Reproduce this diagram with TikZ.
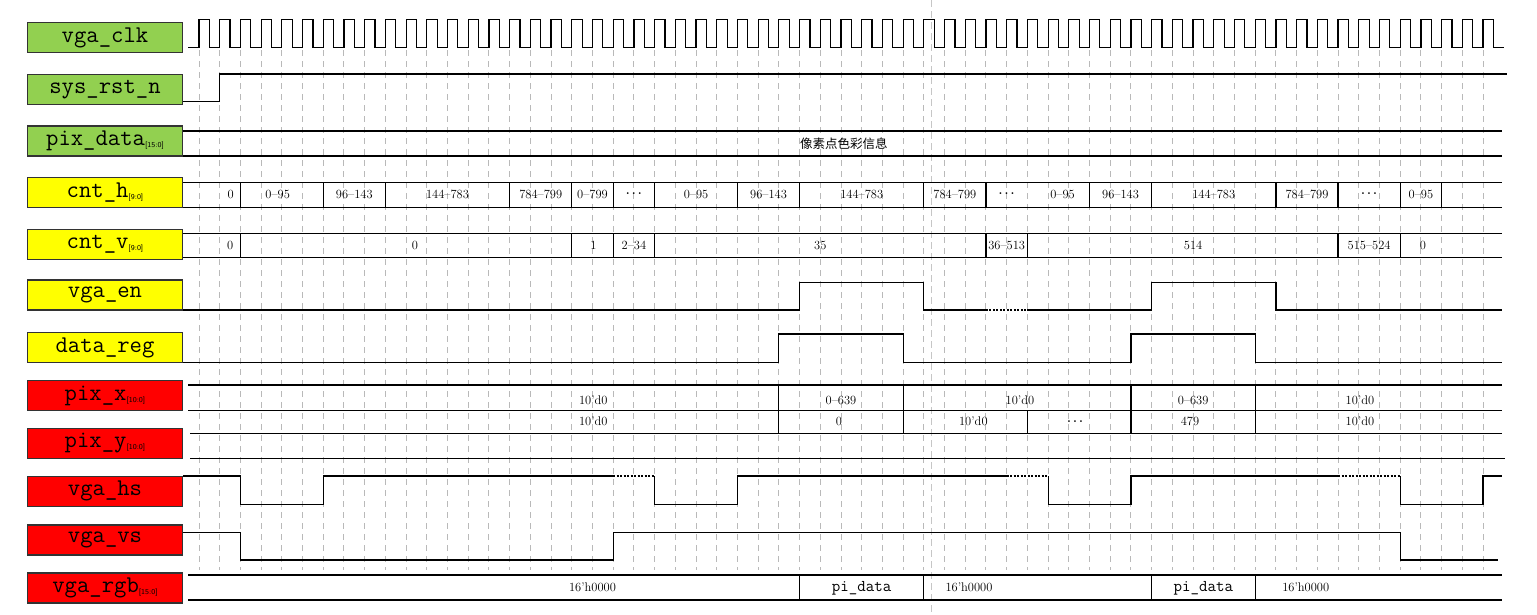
\documentclass[tikz,border=0pt]{standalone}
\usepackage{fontspec}
\newfontfamily\cjk{Noto Sans CJK SC}
\definecolor{lblgreen}{RGB}{146,208,80}
\definecolor{lblyellow}{RGB}{255,255,0}
\definecolor{lblred}{RGB}{255,0,0}
\newcommand{\busw}[1]{\raisebox{-2pt}{\fontsize{7.5}{7.5}\selectfont\sffamily #1}}
\newcommand{\gapdots}{\textbf{.\,.\,.}}

\begin{document}
\begin{tikzpicture}[x=1pt,y=-1pt,
  lbl/.style={draw=black!80, line width=1.1pt, minimum width=155pt, minimum height=30pt, inner sep=0pt, font=\ttfamily\fontsize{24}{24}\selectfont},
  wave/.style={line width=1.2pt},
  gridln/.style={gray!55, line width=1pt, dash pattern=on 6pt off 5pt},
  val/.style={inner sep=0pt, font=\fontsize{12.5}{12.5}\selectfont},
  dots/.style={line width=1.2pt, dash pattern=on 2pt off 1.5pt}]
\useasboundingbox (0,0) rectangle (1537,614);

% signal names
\node[lbl, fill=lblgreen] (clk) at (105,37.8) {vga\_clk};
\node[lbl, fill=lblgreen] (rst) at (105,89.2) {sys\_rst\_n};
\node[lbl, fill=lblgreen] (pixdata) at (105,141) {pix\_data\busw{[15:0]}};
\node[lbl, fill=lblyellow] (cnth) at (105,192.3) {cnt\_h\busw{[9:0]}};
\node[lbl, fill=lblyellow] (cntv) at (105,244.2) {cnt\_v\busw{[9:0]}};
\node[lbl, fill=lblyellow] (vgaen) at (105,295) {vga\_en};
\node[lbl, fill=lblyellow] (datareg) at (105,347.5) {data\_reg};
\node[lbl, fill=lblred] (pixx) at (105,395.7) {pix\_x\busw{[10:0]}};
\node[lbl, fill=lblred] (pixy) at (105,443.3) {pix\_y\busw{[10:0]}};
\node[lbl, fill=lblred] (vgahs) at (105,491.3) {vga\_hs};
\node[lbl, fill=lblred] (vgavs) at (105,540) {vga\_vs};
\node[lbl, fill=lblred] (vgargb) at (105,588) {vga\_rgb\busw{[15:0]}};

\begin{scope}[x=20.71pt, xshift=199pt]
% clock edges
\foreach \k in {0,...,62} \draw[gridln] (\k,50) -- (\k,570);
\draw[gray!45, line width=0.8pt, dash pattern=on 7pt off 4pt] (35.38,0) -- (35.38,614);

\draw[wave] (-0.53,47.3) \foreach \k in {0,...,62} {-- (\k,47.3) -- (\k,19.3) -- (\k+0.5,19.3) -- (\k+0.5,47.3)} -- (63,47.3);

\draw[wave] (-0.77,101.7) -- (1,101.7) -- (1,74) -- (63.14,74);

\draw[wave] (-0.77,131) -- (62.9,131) (-0.77,156) -- (62.9,156);
\node[inner sep=0pt, font=\cjk\fontsize{12.5}{12.5}\selectfont] (pixtxt) at (31.14,143.3) {像素点色彩信息};

% cnt_h
\draw[wave] (-0.77,182.3) -- (62.9,182.3) (-0.77,207.3) -- (62.9,207.3);
\foreach \k in {2,6,9,15,18,20,22,26,29,35,38,43,46,52,55,58,60} \draw[wave] (\k,182.3) -- (\k,207.3);
\foreach \k/\txt [count=\i] in {1.53/0, 3.8/0--95, 7.5/96--143, 12/144--783, 16.5/784--799, 19/0--799, 21/\gapdots, 24/0--95, 27.5/96--143, 32/144--783, 36.5/784--799, 39/\gapdots, 41.7/0--95, 44.5/96--143, 49/144--783, 53.5/784--799, 56.5/\gapdots, 59/0--95}
  \node[val] (h\i) at (\k,194) {\txt};

% cnt_v
\draw[wave] (-0.77,233.3) -- (62.9,233.3) (-0.77,257.3) -- (62.9,257.3);
\foreach \k in {2,18,20,22,38,40,55,58} \draw[wave] (\k,233.3) -- (\k,257.3);
\foreach \k/\txt [count=\i] in {1.5/0, 10.43/0, 19.04/1, 21/2--34, 30/35, 39/36--513, 48/514, 56.5/515--524, 59.1/0}
  \node[val] (v\i) at (\k,245) {\txt};

% vga_en
\draw[wave] (-0.77,310) -- (29,310) -- (29,282.3) -- (35,282.3) -- (35,310) -- (38,310);
\draw[dots] (38,310) -- (40,310);
\draw[wave] (40,310) -- (46,310) -- (46,282.3) -- (52,282.3) -- (52,310) -- (62.9,310);

% data_reg
\draw[wave] (-0.77,362.3) -- (28,362.3) -- (28,334) -- (34,334) -- (34,362.3) -- (45,362.3) -- (45,334) -- (51,334) -- (51,362.3) -- (62.9,362.3);

% pix_x
\draw[wave] (-0.52,385) -- (62.9,385) (-0.52,410.5) -- (62.9,410.5);
\foreach \k in {28,34,45,51} \draw[wave] (\k,385) -- (\k,410.5);
\foreach \k/\txt [count=\i] in {19.04/10'd0, 31/0--639, 39.64/10'd0, 48/0--639, 56.06/10'd0}
  \node[val] (x\i) at (\k,400) {\txt};

% pix_y
\draw[wave] (-0.43,433.3) -- (62.9,433.3) (-0.43,458.3) -- (63.05,458.3);
\foreach \k in {28,34,40,45,51} \draw[wave] (\k,410.5) -- (\k,433.3);
\foreach \k/\txt [count=\i] in {19.04/10'd0, 30.9/0, 37.39/10'd0, 42.3/\gapdots, 47.85/479, 56.06/10'd0}
  \node[val] (y\i) at (\k,421.7) {\txt};

% vga_hs
\draw[wave] (-0.77,476) -- (2,476) -- (2,504.3) -- (6,504.3) -- (6,476) -- (20,476);
\draw[dots] (20,476) -- (22,476);
\draw[wave] (22,476) -- (22,504.3) -- (26,504.3) -- (26,476) -- (39,476);
\draw[dots] (39,476) -- (41,476);
\draw[wave] (41,476) -- (41,504.3) -- (45,504.3) -- (45,476) -- (55,476);
\draw[dots] (55,476) -- (58,476);
\draw[wave] (58,476) -- (58,504.3) -- (62,504.3) -- (62,476) -- (62.9,476);

% vga_vs
\draw[wave] (-0.77,532.3) -- (2,532.3) -- (2,560) -- (20,560) -- (20,532.3) -- (58,532.3) -- (58,560) -- (62.71,560);

% vga_rgb
\draw[wave] (-0.52,575) -- (62.9,575) (-0.52,600) -- (62.9,600);
\foreach \k in {29,35,46,51} \draw[wave] (\k,575) -- (\k,600);
\foreach \k/\txt [count=\i] in {19/16'h0000, 37.18/16'h0000, 53.44/16'h0000}
  \node[val] (r\i) at (\k,587.7) {\txt};
\node[inner sep=0pt, font=\ttfamily\fontsize{16.5}{16.5}\selectfont] (rd1) at (32,588.3) {pi\_data};
\node[inner sep=0pt, font=\ttfamily\fontsize{16.5}{16.5}\selectfont] (rd2) at (48.5,588.3) {pi\_data};
\end{scope}
\end{tikzpicture}
\end{document}
